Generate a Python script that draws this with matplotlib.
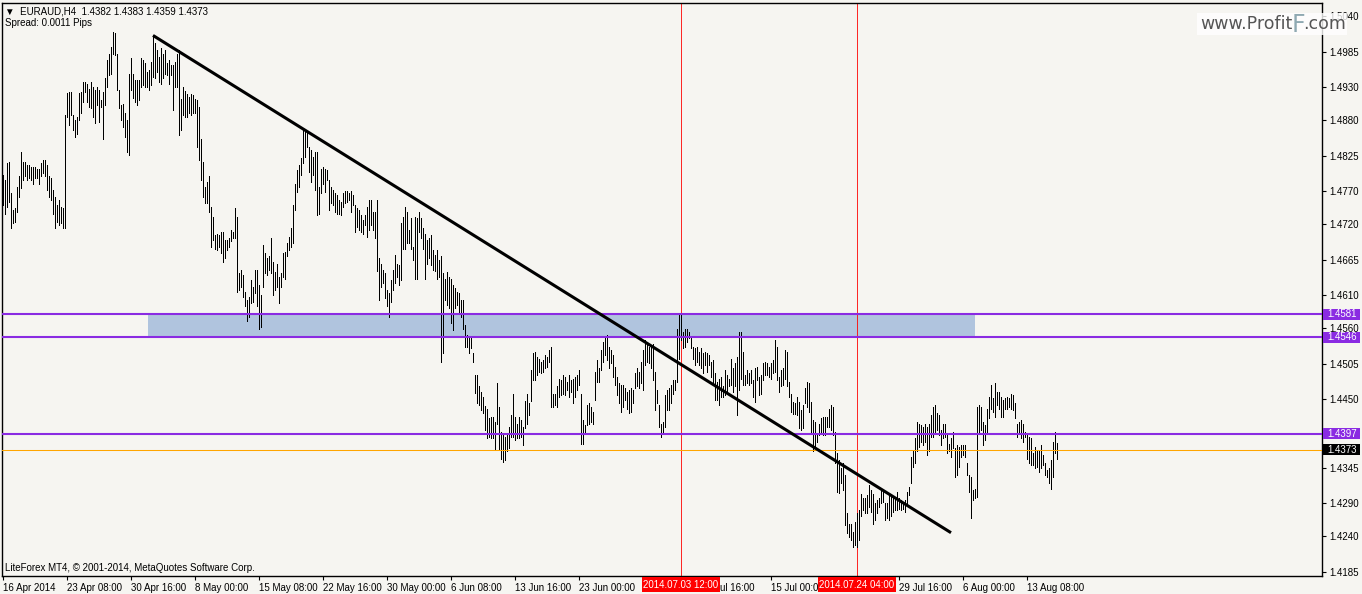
import matplotlib.pyplot as plt
import matplotlib.transforms as mtransforms
import numpy as np
from matplotlib.patches import Rectangle

# H4 bars, high / low in pips above 1.4000
highs = [
    4795, 4787, 4813, 4816, 4767, 4741, 4744, 4777, 4793, 4831,
    4816, 4816, 4810, 4810, 4808, 4808, 4808, 4805, 4805, 4813,
    4818, 4818, 4810, 4793, 4790, 4772, 4762, 4749, 4757, 4746,
    4744, 4887, 4921, 4923, 4923, 4887, 4880, 4885, 4921, 4923,
    4939, 4939, 4936, 4928, 4939, 4931, 4926, 4931, 4926, 4910,
    4923, 4944, 4972, 4982, 4992, 5016, 5013, 4982, 4926, 4903,
    4905, 4890, 4880, 4951, 4975, 4951, 4941, 4941, 4941, 4975,
    4972, 4967, 4954, 4957, 4969, 5010, 4998, 4987, 4977, 4990,
    4982, 4987, 4967, 4972, 4964, 4964, 4969, 4982, 4987, 4912,
    4930, 4925, 4920, 4915, 4920, 4918, 4912, 4910, 4900, 4851,
    4816, 4777, 4785, 4793, 4746, 4731, 4703, 4705, 4703, 4708,
    4708, 4695, 4695, 4698, 4711, 4708, 4744, 4731, 4644, 4649,
    4641, 4616, 4603, 4608, 4634, 4623, 4649, 4649, 4626, 4610,
    4688, 4675, 4667, 4670, 4698, 4662, 4646, 4659, 4639, 4644,
    4675, 4677, 4690, 4700, 4713, 4749, 4782, 4803, 4811, 4821,
    4867, 4864, 4862, 4839, 4834, 4823, 4831, 4831, 4777, 4805,
    4808, 4805, 4803, 4787, 4777, 4772, 4767, 4764, 4757, 4754,
    4767, 4770, 4770, 4767, 4770, 4764, 4749, 4744, 4741, 4734,
    4726, 4734, 4746, 4757, 4757, 4739, 4739, 4757, 4667, 4659,
    4649, 4644, 4618, 4613, 4634, 4649, 4672, 4659, 4657, 4721,
    4731, 4746, 4739, 4711, 4729, 4685, 4731, 4729, 4739, 4729,
    4713, 4705, 4695, 4698, 4703, 4680, 4672, 4680, 4664, 4670,
    4644, 4636, 4646, 4639, 4636, 4626, 4621, 4616, 4613, 4603,
    4603, 4564, 4549, 4544, 4544, 4521, 4488, 4488, 4470, 4462,
    4454, 4440, 4436, 4421, 4423, 4423, 4416, 4475, 4439, 4400,
    4395, 4393, 4398, 4408, 4426, 4459, 4423, 4413, 4423, 4418,
    4408, 4447, 4459, 4444, 4495, 4521, 4523, 4516, 4513, 4508,
    4511, 4518, 4516, 4526, 4531, 4459, 4459, 4470, 4482, 4480,
    4488, 4485, 4477, 4488, 4480, 4482, 4485, 4488, 4495, 4459,
    4418, 4411, 4441, 4444, 4439, 4431, 4493, 4511, 4498, 4526,
    4539, 4544, 4549, 4531, 4526, 4518, 4500, 4485, 4475, 4472,
    4472, 4467, 4462, 4464, 4467, 4464, 4490, 4498, 4493, 4508,
    4526, 4541, 4539, 4531, 4531, 4536, 4493, 4464, 4441, 4413,
    4416, 4457, 4464, 4467, 4472, 4480, 4480, 4559, 4582, 4580,
    4554, 4559, 4559, 4554, 4544, 4531, 4529, 4531, 4523, 4529,
    4521, 4523, 4521, 4518, 4508, 4511, 4490, 4477, 4482, 4485,
    4470, 4495, 4488, 4482, 4513, 4498, 4506, 4516, 4554, 4554,
    4523, 4488, 4495, 4490, 4495, 4480, 4498, 4500, 4485, 4488,
    4506, 4508, 4506, 4500, 4506, 4511, 4541, 4531, 4485, 4495,
    4498, 4526, 4523, 4477, 4459, 4446, 4444, 4454, 4446, 4434,
    4441, 4467, 4477, 4475, 4446, 4418, 4416, 4395, 4413, 4421,
    4423, 4423, 4423, 4436, 4441, 4439, 4400, 4367, 4357, 4344,
    4352, 4334, 4275, 4259, 4259, 4246, 4262, 4275, 4280, 4305,
    4298, 4298, 4303, 4318, 4310, 4305, 4290, 4295, 4298, 4310,
    4308, 4290, 4290, 4303, 4303, 4300, 4300, 4308, 4298, 4295,
    4290, 4295, 4308, 4316, 4362, 4370, 4390, 4416, 4413, 4411,
    4408, 4413, 4408, 4413, 4426, 4439, 4441, 4429, 4426, 4403,
    4413, 4413, 4395, 4382, 4390, 4400, 4375, 4380, 4377, 4380,
    4380, 4380, 4352, 4334, 4331, 4311, 4313, 4439, 4441, 4439,
    4416, 4411, 4436, 4454, 4472, 4452, 4475, 4462, 4462, 4454,
    4449, 4452, 4454, 4452, 4459, 4457, 4444, 4413, 4416, 4418,
    4413, 4400, 4398, 4393, 4390, 4367, 4377, 4370, 4372, 4380,
    4364, 4352, 4341, 4344, 4357, 4385, 4400, 4383,
]
lows = [
    4749, 4736, 4746, 4754, 4713, 4721, 4723, 4739, 4762, 4775,
    4787, 4793, 4787, 4790, 4787, 4782, 4790, 4790, 4782, 4793,
    4798, 4793, 4772, 4762, 4757, 4736, 4713, 4723, 4718, 4721,
    4713, 4713, 4885, 4872, 4887, 4864, 4854, 4859, 4880, 4890,
    4908, 4923, 4908, 4900, 4898, 4885, 4875, 4903, 4877, 4900,
    4851, 4903, 4931, 4949, 4951, 4982, 4980, 4926, 4898, 4880,
    4869, 4854, 4831, 4826, 4926, 4913, 4908, 4903, 4910, 4931,
    4934, 4931, 4931, 4926, 4934, 4946, 4944, 4954, 4939, 4936,
    4944, 4951, 4949, 4936, 4949, 4895, 4931, 4931, 4857, 4864,
    4887, 4885, 4885, 4890, 4887, 4890, 4890, 4839, 4818, 4787,
    4762, 4752, 4752, 4739, 4685, 4695, 4682, 4680, 4685, 4675,
    4662, 4667, 4680, 4685, 4693, 4698, 4698, 4616, 4618, 4623,
    4608, 4593, 4570, 4577, 4598, 4600, 4613, 4593, 4559, 4562,
    4623, 4644, 4641, 4649, 4644, 4611, 4618, 4623, 4598, 4623,
    4639, 4636, 4670, 4680, 4685, 4690, 4741, 4769, 4777, 4795,
    4813, 4823, 4839, 4800, 4785, 4795, 4772, 4734, 4736, 4767,
    4782, 4769, 4787, 4741, 4752, 4749, 4739, 4736, 4736, 4734,
    4746, 4752, 4754, 4757, 4739, 4749, 4708, 4716, 4711, 4708,
    4705, 4718, 4700, 4711, 4718, 4711, 4698, 4647, 4603, 4623,
    4629, 4606, 4593, 4577, 4600, 4618, 4629, 4639, 4626, 4634,
    4682, 4682, 4690, 4690, 4682, 4664, 4636, 4636, 4708, 4698,
    4682, 4636, 4659, 4667, 4657, 4649, 4647, 4636, 4639, 4508,
    4521, 4603, 4595, 4590, 4567, 4557, 4590, 4595, 4582, 4577,
    4559, 4531, 4531, 4521, 4529, 4508, 4460, 4444, 4441, 4434,
    4429, 4403, 4390, 4393, 4390, 4390, 4372, 4413, 4372, 4359,
    4354, 4357, 4370, 4375, 4393, 4393, 4387, 4390, 4390, 4393,
    4380, 4406, 4413, 4426, 4447, 4480, 4480, 4488, 4493, 4490,
    4493, 4498, 4500, 4508, 4439, 4439, 4441, 4439, 4454, 4457,
    4459, 4457, 4464, 4454, 4462, 4444, 4454, 4464, 4472, 4382,
    4382, 4398, 4411, 4413, 4416, 4413, 4449, 4477, 4477, 4495,
    4508, 4518, 4511, 4498, 4506, 4485, 4472, 4457, 4444, 4431,
    4439, 4449, 4436, 4429, 4431, 4444, 4467, 4470, 4467, 4475,
    4464, 4503, 4508, 4506, 4498, 4480, 4434, 4444, 4408, 4393,
    4398, 4408, 4434, 4434, 4444, 4459, 4464, 4477, 4513, 4541,
    4529, 4531, 4539, 4544, 4529, 4513, 4503, 4508, 4503, 4498,
    4490, 4503, 4493, 4503, 4485, 4472, 4449, 4449, 4441, 4454,
    4454, 4457, 4462, 4470, 4472, 4462, 4470, 4426, 4464, 4482,
    4472, 4472, 4475, 4472, 4475, 4454, 4446, 4480, 4457, 4459,
    4480, 4488, 4488, 4485, 4482, 4490, 4493, 4480, 4462, 4470,
    4472, 4482, 4470, 4454, 4431, 4428, 4428, 4426, 4406, 4403,
    4406, 4444, 4439, 4431, 4398, 4370, 4377, 4385, 4395, 4398,
    4395, 4395, 4408, 4408, 4403, 4395, 4352, 4308, 4306, 4321,
    4311, 4257, 4244, 4239, 4234, 4223, 4226, 4223, 4234, 4270,
    4280, 4275, 4275, 4285, 4277, 4259, 4265, 4275, 4285, 4290,
    4293, 4265, 4267, 4265, 4270, 4277, 4280, 4280, 4282, 4280,
    4282, 4277, 4290, 4303, 4321, 4346, 4352, 4370, 4377, 4385,
    4380, 4385, 4364, 4370, 4393, 4393, 4400, 4403, 4395, 4380,
    4390, 4393, 4367, 4370, 4362, 4375, 4331, 4334, 4346, 4362,
    4364, 4362, 4334, 4308, 4267, 4295, 4298, 4300, 4398, 4403,
    4380, 4388, 4398, 4421, 4436, 4431, 4423, 4441, 4436, 4423,
    4423, 4436, 4436, 4439, 4436, 4434, 4421, 4393, 4398, 4390,
    4385, 4393, 4359, 4352, 4349, 4349, 4344, 4346, 4339, 4344,
    4349, 4334, 4331, 4321, 4313, 4331, 4367, 4359,
]

price_ticks = [1.5040, 1.4985, 1.4930, 1.4880, 1.4825, 1.4770, 1.4720, 1.4665,
               1.4610, 1.4560, 1.4505, 1.4450, 1.4395, 1.4345, 1.4290, 1.4240, 1.4185]
time_tick_bars = list(range(0, 513, 32))
time_labels = ['16 Apr 2014', '23 Apr 08:00', '30 Apr 16:00', '8 May 00:00', '15 May 08:00',
               '22 May 16:00', '30 May 00:00', '6 Jun 08:00', '13 Jun 16:00', '23 Jun 00:00',
               '', '7 Jul 16:00', '15 Jul 00:00', '', '29 Jul 16:00',
               '6 Aug 00:00', '13 Aug 08:00']

levels = [1.4581, 1.4546, 1.4397]
bid = 1.4373
zone = (72.5, 486, 1.4546, 1.4581)          # bar from, bar to, low, high
trend = ([75, 474], [1.5010, 1.4245])
vlines_at = [339, 427]
vline_labels = ['2014.07.03 12:00', '2014.07.24 04:00']

W, H = 1362, 594
bg = '#f6f5f1'
purple = '#8a2be2'

plt.rcParams['font.family'] = ['Liberation Sans', 'DejaVu Sans']
plt.rcParams['font.size'] = 7

fig = plt.figure(figsize=(W / 100, H / 100), dpi=100, facecolor=bg)
ax = fig.add_axes([2 / W, 18 / H, 1320 / W, 573 / H], facecolor=bg)

hi = 1 + np.array(highs) / 10000
lo = 1 + np.array(lows) / 10000
x = np.arange(len(hi))

ax.add_patch(Rectangle((zone[0], zone[2]), zone[1] - zone[0], zone[3] - zone[2],
                       facecolor='#b0c4de', edgecolor='none', zorder=1))
for v in vlines_at:
    ax.axvline(v, color='red', lw=0.6, zorder=1.5)
ax.vlines(x, lo, hi, colors='black', lw=0.5, antialiased=False, zorder=2)
for lv in levels:
    ax.axhline(lv, color=purple, lw=1.5, zorder=3)
ax.axhline(bid, color='#ffa500', lw=0.75, zorder=3)
ax.plot(trend[0], trend[1], color='black', lw=2.2, solid_capstyle='butt', zorder=4)

ax.set_xlim(-0.5, 659.5)
ax.set_ylim(1.41784, 1.50599)

ax.yaxis.tick_right()
ax.set_yticks(price_ticks)
ax.set_yticklabels(['' if t == 1.4395 else f'{t:.4f}' for t in price_ticks])
ax.tick_params(axis='y', direction='out', length=3, width=0.8, pad=2, colors='black')
ax.set_xticks(time_tick_bars)
ax.set_xticklabels(time_labels)
for lbl in ax.get_xticklabels():
    lbl.set_ha('left')
ax.tick_params(axis='x', direction='out', length=3, width=0.8, pad=2)
for s in ax.spines.values():
    s.set_linewidth(1.0)
    s.set_color('black')

# price labels on the right scale
ytr = mtransforms.blended_transform_factory(ax.transAxes, ax.transData)
box_w = 37 / 1320
box_h = 11 / 6500
for lv, fc in [(levels[0], purple), (levels[1], purple), (levels[2], purple), (bid, 'black')]:
    ax.add_patch(Rectangle((1 + 1 / 1320, lv - box_h / 2), box_w, box_h, transform=ytr,
                           facecolor=fc, edgecolor='none', clip_on=False, zorder=10))
    ax.text(1 + 5 / 1320, lv, f'{lv:.4f}', transform=ytr, color='white', va='center',
            ha='left', clip_on=False, zorder=11)

# time labels of the vertical lines
xtr = mtransforms.blended_transform_factory(ax.transData, ax.transAxes)
for v, lab in zip(vlines_at, vline_labels):
    ax.add_patch(Rectangle((v - 19.5, -16 / 573), 39, 15 / 573, transform=xtr,
                           facecolor='red', edgecolor='none', clip_on=False, zorder=10))
    ax.text(v, -8.5 / 573, lab, transform=xtr, color='white', va='center', ha='center',
            clip_on=False, zorder=11)

# header and footer
fig.text(5 / W, 1 - 11 / H, '\u25bc  EURAUD,H4  1.4382 1.4383 1.4359 1.4373', va='center', ha='left')
fig.text(5 / W, 1 - 23 / H, 'Spread: 0.0011 Pips', va='center', ha='left')
fig.text(5 / W, 1 - 568 / H, 'LiteForex MT4, \u00a9 2001-2014, MetaQuotes Software Corp.',
         va='center', ha='left')

# watermark
fig.add_artist(Rectangle((1197 / W, 1 - 35 / H), 150 / W, 22 / H, transform=fig.transFigure,
                         facecolor='white', alpha=0.8, edgecolor='none', zorder=20))
fig.text(1200 / W, 1 - 29 / H, 'www.Profit', fontsize=12.5, color='#555555',
         family='DejaVu Sans', va='baseline', zorder=21)
fig.text(1292 / W, 1 - 32 / H, 'F', fontsize=17, color='#8fa9b2',
         family='DejaVu Sans', va='baseline', zorder=21)
fig.text(1303 / W, 1 - 29 / H, '.com', fontsize=12.5, color='#555555',
         family='DejaVu Sans', va='baseline', zorder=21)

fig.savefig('out.png', dpi=100, facecolor=bg)
